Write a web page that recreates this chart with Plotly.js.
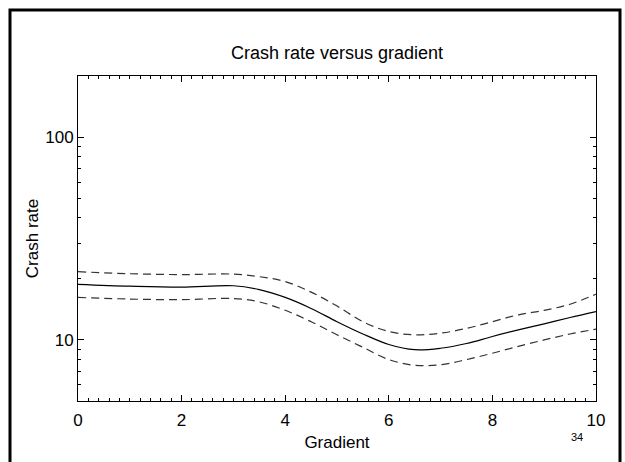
<!DOCTYPE html>
<html><head><meta charset="utf-8">
<script src="https://cdn.plot.ly/plotly-3.0.1.min.js"></script>
<style>body{margin:0;background:#fff}#chart{width:625px;height:462px}</style>
</head><body><div id="chart"></div>
<script>
const gradient = [0, 1, 2, 3, 3.5, 4, 4.5, 5, 5.5, 6, 6.5, 7, 7.5, 8, 8.5, 9, 9.5, 10];
const rateFit   = [18.8, 18.4, 18.2, 18.5, 17.7, 16.2, 14.3, 12.3, 10.7, 9.5, 8.95, 9.1, 9.6, 10.4, 11.2, 12.0, 12.9, 13.8];
const rateUpper = [21.7, 21.2, 21.0, 21.1, 20.5, 19.4, 17.2, 14.7, 12.3, 11.0, 10.6, 10.8, 11.4, 12.3, 13.3, 14.0, 15.0, 16.8];
const rateLower = [16.2, 15.9, 15.8, 16.0, 15.4, 14.0, 12.3, 10.6, 9.2, 8.0, 7.5, 7.55, 8.0, 8.6, 9.3, 10.0, 10.7, 11.3];
const yMinorVals = [6, 7, 8, 9, 20, 30, 40, 50, 60, 70, 80, 90];

const font = {family: 'Liberation Sans, Arial, sans-serif', color: '#000'};
const f = s => Object.assign({size: s}, font);
const traces = [
  {x: gradient, y: rateUpper, mode: 'lines', line: {color: '#333', width: 1.2, dash: '8px,5px', shape: 'spline'}, hoverinfo: 'skip'},
  {x: gradient, y: rateFit, mode: 'lines', line: {color: '#000', width: 1.2, shape: 'spline'}},
  {x: gradient, y: rateLower, mode: 'lines', line: {color: '#333', width: 1.2, dash: '8px,5px', shape: 'spline'}, hoverinfo: 'skip'}
];
const layout = {
  width: 625, height: 462,
  margin: {l: 78, r: 29, t: 76, b: 61},
  paper_bgcolor: '#fff', plot_bgcolor: '#fff',
  showlegend: false,
  font: f(17),
  title: {text: 'Crash rate versus gradient', xref: 'paper', x: 0.5, xanchor: 'center', y: 1 - 53/462, yanchor: 'middle', font: f(18)},
  xaxis: {
    range: [0, 10], dtick: 2, tick0: 0, ticks: 'inside', ticklen: 6, tickcolor: '#000',
    showline: true, linecolor: '#000', linewidth: 1, mirror: 'ticks', showgrid: false, zeroline: false,
    minor: {dtick: 0.2, tick0: 0, ticks: 'inside', ticklen: 3, tickcolor: '#000', showgrid: false},
    tickfont: f(17), ticklabelstandoff: 4,
    title: {text: 'Gradient', font: f(17), standoff: 6}
  },
  yaxis: {
    type: 'log', range: [Math.log10(5), Math.log10(200)], dtick: 1, ticks: 'inside', ticklen: 6, tickcolor: '#000',
    showline: true, linecolor: '#000', linewidth: 1, mirror: 'ticks', showgrid: false, zeroline: false,
    minor: {tickmode: 'array', tickvals: yMinorVals, ticks: 'inside', ticklen: 3, tickcolor: '#000', showgrid: false},
    tickfont: f(17),
    title: {text: 'Crash rate', font: f(17), standoff: 2}
  },
  shapes: [{type: 'rect', xref: 'paper', yref: 'paper',
    x0: (10 - 78)/518, x1: (620 - 78)/518, y0: (401 - 475)/325, y1: (401 - 10)/325,
    line: {color: '#000', width: 3}, fillcolor: 'rgba(0,0,0,0)'}],
  annotations: [{text: '34', xref: 'paper', yref: 'paper', x: (577 - 78)/518, y: (401 - 437)/325,
    showarrow: false, xanchor: 'center', yanchor: 'middle', font: f(11)}]
};
Plotly.newPlot('chart', traces, layout, {displayModeBar: false, staticPlot: true});
</script></body></html>
